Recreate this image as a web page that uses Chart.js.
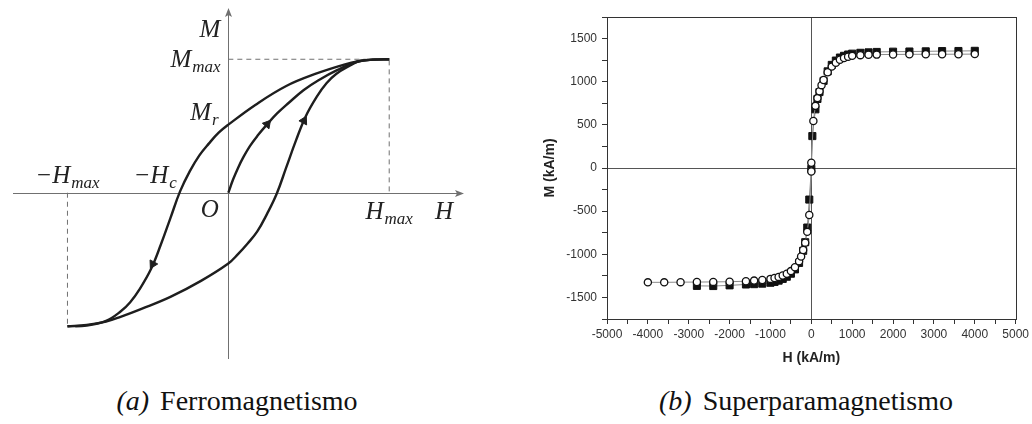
<!DOCTYPE html>
<html>
<head>
<meta charset="utf-8">
<script src="https://cdn.jsdelivr.net/npm/chart.js@4.4.1/dist/chart.umd.min.js"></script>
<style>
  body { margin:0; background:#fff; width:1032px; height:424px; position:relative; overflow:hidden; }
  #wrapA { position:absolute; left:0; top:0; width:480px; height:370px; }
  #wrapB { position:absolute; left:530px; top:0; width:502px; height:375px; }
  .cap { position:absolute; top:386px; font-family:"Liberation Serif", serif; font-size:28px; line-height:30px; color:#111; white-space:nowrap; transform:translateX(-50%); }
  .cap i { margin-right:4px; }
</style>
</head>
<body>
<div id="wrapA"><canvas id="chartA" width="480" height="370"></canvas></div>
<div id="wrapB"><canvas id="chartB" width="502" height="375"></canvas></div>
<div class="cap" style="left:237px"><i>(a)</i> Ferromagnetismo</div>
<div class="cap" style="left:806px"><i>(b)</i> Superparamagnetismo</div>
<script>
// (a) ciclo esquematico, H/Hmax y M/Mmax
const hMax = 1;
const mMax = 1;

const curvaInicialH = [0, 0.030, 0.061, 0.091, 0.133, 0.182, 0.242, 0.303, 0.376, 0.467, 0.558, 0.679, 0.81, 0.90, 1];
const curvaInicialM = [0, 0.101, 0.188, 0.261, 0.348, 0.428, 0.514, 0.594, 0.674, 0.768, 0.841, 0.920, 0.985, 0.997, 1];

const ramaBajadaH = [1, 0.90, 0.81, 0.72, 0.54, 0.36, 0.17, 0, -0.06, -0.12, -0.18, -0.24, -0.30, -0.36, -0.42, -0.48, -0.55, -0.61, -0.67, -0.76, -0.88, -1];
const ramaBajadaM = [1, 0.997, 0.985, 0.96, 0.89, 0.80, 0.66, 0.51, 0.45, 0.37, 0.28, 0.16, 0.01, -0.19, -0.39, -0.57, -0.72, -0.82, -0.89, -0.96, -0.995, -1];

const ramaSubidaH = [-1, -0.88, -0.76, -0.67, -0.54, -0.36, -0.17, 0, 0.06, 0.12, 0.18, 0.24, 0.30, 0.36, 0.42, 0.48, 0.55, 0.61, 0.67, 0.76, 0.81, 0.90, 1];
const ramaSubidaM = [-1, -0.99, -0.965, -0.93, -0.87, -0.78, -0.66, -0.53, -0.46, -0.38, -0.29, -0.16, -0.01, 0.19, 0.39, 0.57, 0.72, 0.82, 0.89, 0.955, 0.985, 0.997, 1];

// flechas sobre las curvas
const flechaH = [0.242, 0.47, -0.47];
const flechaM = [0.514, 0.54, -0.535];
const flechaGiro = [40, 28, 208];

// (b) superparamagnetismo, kA/m
const circulosH = [-4000, -3600, -3200, -2800, -2400, -2000, -1600, -1400, -1200, -1000, -900, -800, -700, -600, -500, -400, -300, -250, -200, -150, -100, -50, 0, 0, 50, 100, 150, 200, 250, 300, 400, 500, 600, 700, 800, 900, 1000, 1200, 1400, 1600, 2000, 2400, 2800, 3200, 3600, 4000];
const circulosM = [-1325, -1325, -1323, -1322, -1320, -1318, -1312, -1305, -1298, -1285, -1275, -1262, -1245, -1225, -1195, -1150, -1080, -1025, -950, -865, -740, -545, -40, 60, 545, 720, 810, 890, 960, 1020, 1110, 1175, 1220, 1255, 1275, 1290, 1300, 1308, 1312, 1314, 1316, 1317, 1318, 1318, 1319, 1320];

const cuadradosH = [-2800, -2400, -2000, -1600, -1400, -1200, -1000, -900, -800, -700, -600, -500, -400, -300, -200, -150, -100, -50, 0, 25, 100, 150, 200, 300, 400, 500, 600, 700, 800, 900, 1000, 1200, 1400, 1600, 2000, 2400, 2800, 3200, 3600, 4000];
const cuadradosM = [-1366, -1368, -1360, -1350, -1346, -1340, -1330, -1320, -1305, -1285, -1260, -1225, -1175, -1100, -960, -860, -690, -366, -10, 370, 680, 800, 880, 1010, 1120, 1195, 1245, 1280, 1300, 1315, 1325, 1335, 1340, 1345, 1348, 1350, 1352, 1355, 1356, 1358];

const ticksH = [-5000, -4000, -3000, -2000, -1000, 0, 1000, 2000, 3000, 4000, 5000];
const ticksM = [-1500, -1000, -500, 0, 500, 1000, 1500];

const puntos = (xs, ys) => xs.map((x, i) => ({x: x, y: ys[i]}));

// etiquetas del esquema (posicion en unidades del grafico)
const etiquetasA = [
  {t: 'M', s: '', h: -0.115, m: 1.167, al: 'center'},
  {t: 'M', s: 'max', h: -0.048, m: 0.942, al: 'right'},
  {t: 'M', s: 'r', h: -0.06, m: 0.543, al: 'right'},
  {t: '\u2212H', s: 'max', h: -1.0, m: 0.072, al: 'center'},
  {t: '\u2212H', s: 'c', h: -0.32, m: 0.072, al: 'right'},
  {t: 'O', s: '', h: -0.06, m: -0.181, al: 'right'},
  {t: 'H', s: 'max', h: 1.0, m: -0.196, al: 'center'},
  {t: 'H', s: '', h: 1.285, m: -0.196, al: 'left'},
];

const ejesA = {
  id: 'ejesA',
  beforeDatasetsDraw(chart) {
    const {ctx, chartArea: a, scales: {x, y}} = chart;
    const x0 = Math.round(x.getPixelForValue(0)) + 0.5;
    const y0 = Math.round(y.getPixelForValue(0)) + 0.5;
    ctx.save();
    ctx.strokeStyle = '#707070';
    ctx.fillStyle = '#707070';
    ctx.lineWidth = 1;
    ctx.beginPath();
    ctx.moveTo(a.left + 7, y0); ctx.lineTo(a.right - 12, y0);
    ctx.moveTo(x0, a.bottom - 5); ctx.lineTo(x0, a.top + 4);
    ctx.stroke();
    // puntas de flecha
    ctx.beginPath();
    ctx.moveTo(a.right - 10, y0); ctx.lineTo(a.right - 19, y0 - 3.5); ctx.lineTo(a.right - 17, y0); ctx.lineTo(a.right - 19, y0 + 3.5);
    ctx.closePath(); ctx.fill();
    ctx.beginPath();
    ctx.moveTo(x0, a.top + 2); ctx.lineTo(x0 - 3.5, a.top + 11); ctx.lineTo(x0, a.top + 9); ctx.lineTo(x0 + 3.5, a.top + 11);
    ctx.closePath(); ctx.fill();
    ctx.restore();
  },
  afterDatasetsDraw(chart) {
    const {ctx, scales: {x, y}} = chart;
    ctx.save();
    ctx.fillStyle = '#222';
    ctx.textBaseline = 'alphabetic';
    etiquetasA.forEach(e => {
      const fMain = 'italic 25px "Liberation Serif", serif';
      const fSub = 'italic 17px "Liberation Serif", serif';
      ctx.font = fMain;
      const w1 = ctx.measureText(e.t).width;
      ctx.font = fSub;
      const w2 = e.s ? ctx.measureText(e.s).width + 1 : 0;
      const px = x.getPixelForValue(e.h);
      const py = y.getPixelForValue(e.m);
      let x1 = px;
      if (e.al === 'center') x1 = px - (w1 + w2) / 2;
      if (e.al === 'right') x1 = px - (w1 + w2);
      ctx.font = fMain;
      ctx.fillText(e.t, x1, py);
      if (e.s) {
        ctx.font = fSub;
        ctx.fillText(e.s, x1 + w1 + 1, py + 5);
      }
    });
    ctx.restore();
  }
};

const linea = (data) => ({
  data: data,
  showLine: true,
  borderColor: '#1e1e1e',
  borderWidth: 2.4,
  pointRadius: 0,
  tension: 0.4,
});

const graficoA = new Chart(document.getElementById('chartA'), {
  type: 'scatter',
  data: {
    datasets: [
      {
        data: puntos(flechaH, flechaM),
        pointStyle: 'triangle',
        pointRadius: 5,
        pointRotation: flechaGiro,
        backgroundColor: '#1e1e1e',
        borderColor: '#1e1e1e',
        showLine: false,
      },
      linea(puntos(curvaInicialH, curvaInicialM)),
      linea(puntos(ramaBajadaH, ramaBajadaM)),
      linea(puntos(ramaSubidaH, ramaSubidaM)),
      {
        data: [{x: 0, y: mMax}, {x: hMax, y: mMax}, {x: hMax, y: 0}],
        showLine: true,
        borderColor: '#707070',
        borderWidth: 1,
        borderDash: [5, 4],
        pointRadius: 0,
      },
      {
        data: [{x: -hMax, y: 0}, {x: -hMax, y: -mMax}],
        showLine: true,
        borderColor: '#707070',
        borderWidth: 1,
        borderDash: [5, 4],
        pointRadius: 0,
      },
    ],
  },
  options: {
    responsive: false,
    animation: false,
    devicePixelRatio: 1,
    layout: {padding: 0},
    plugins: {legend: {display: false}, tooltip: {enabled: false}},
    scales: {
      x: {type: 'linear', display: false, min: -1.382, max: 1.527},
      y: {type: 'linear', display: false, min: -1.283, max: 1.399},
    },
  },
  plugins: [ejesA],
});

const marco = {
  id: 'marco',
  afterDraw(chart) {
    const {ctx, chartArea: a} = chart;
    ctx.save();
    ctx.strokeStyle = '#333';
    ctx.lineWidth = 1;
    ctx.strokeRect(Math.round(a.left) + 0.5, Math.round(a.top) + 0.5, Math.round(a.right - a.left), Math.round(a.bottom - a.top));
    ctx.restore();
  }
};

const fuenteTicks = {family: '"Liberation Sans", Arial, sans-serif', size: 12};

const graficoB = new Chart(document.getElementById('chartB'), {
  type: 'scatter',
  data: {
    datasets: [
      {
        data: puntos(circulosH, circulosM),
        showLine: true,
        borderColor: '#8a8a8a',
        borderWidth: 1,
        pointStyle: 'circle',
        pointRadius: 3.6,
        pointBackgroundColor: '#fff',
        pointBorderColor: '#111',
        pointBorderWidth: 1.3,
      },
      {
        data: puntos(cuadradosH, cuadradosM),
        showLine: true,
        borderColor: '#8a8a8a',
        borderWidth: 1,
        pointStyle: 'rect',
        pointRadius: 5,
        pointBackgroundColor: '#111',
        pointBorderColor: '#111',
        pointBorderWidth: 1,
      },
    ],
  },
  options: {
    responsive: false,
    animation: false,
    devicePixelRatio: 1,
    layout: {padding: {left: 9, right: 16, top: 17, bottom: 5}},
    plugins: {legend: {display: false}, tooltip: {enabled: false}},
    scales: {
      x: {
        type: 'linear',
        min: -5000,
        max: 5000,
        afterFit: s => { s.height = 51; },
        ticks: {
          stepSize: 500,
          autoSkip: false,
          maxRotation: 0,
          padding: 3,
          color: '#333',
          font: fuenteTicks,
          callback: v => ticksH.includes(v) ? String(v) : '',
        },
        grid: {
          color: c => (c.tick && c.tick.value === 0) ? '#555' : 'rgba(0,0,0,0)',
          tickColor: '#333',
          tickLength: 5,
        },
        border: {color: '#333'},
        title: {
          display: true,
          text: 'H (kA/m)',
          color: '#222',
          font: {family: '"Liberation Sans", Arial, sans-serif', size: 14, weight: 'bold'},
          padding: {top: 0, bottom: 3},
        },
      },
      y: {
        type: 'linear',
        min: -1750,
        max: 1750,
        afterFit: s => { s.width = 68; },
        ticks: {
          stepSize: 250,
          autoSkip: false,
          padding: 5,
          color: '#333',
          font: fuenteTicks,
          callback: v => ticksM.includes(v) ? String(v) : '',
        },
        grid: {
          color: c => (c.tick && c.tick.value === 0) ? '#555' : 'rgba(0,0,0,0)',
          tickColor: '#333',
          tickLength: 5,
        },
        border: {color: '#333'},
        title: {
          display: true,
          text: 'M (kA/m)',
          color: '#222',
          font: {family: '"Liberation Sans", Arial, sans-serif', size: 14, weight: 'bold'},
          padding: {top: 3, bottom: 0},
        },
      },
    },
  },
  plugins: [marco],
});
</script>
</body>
</html>
